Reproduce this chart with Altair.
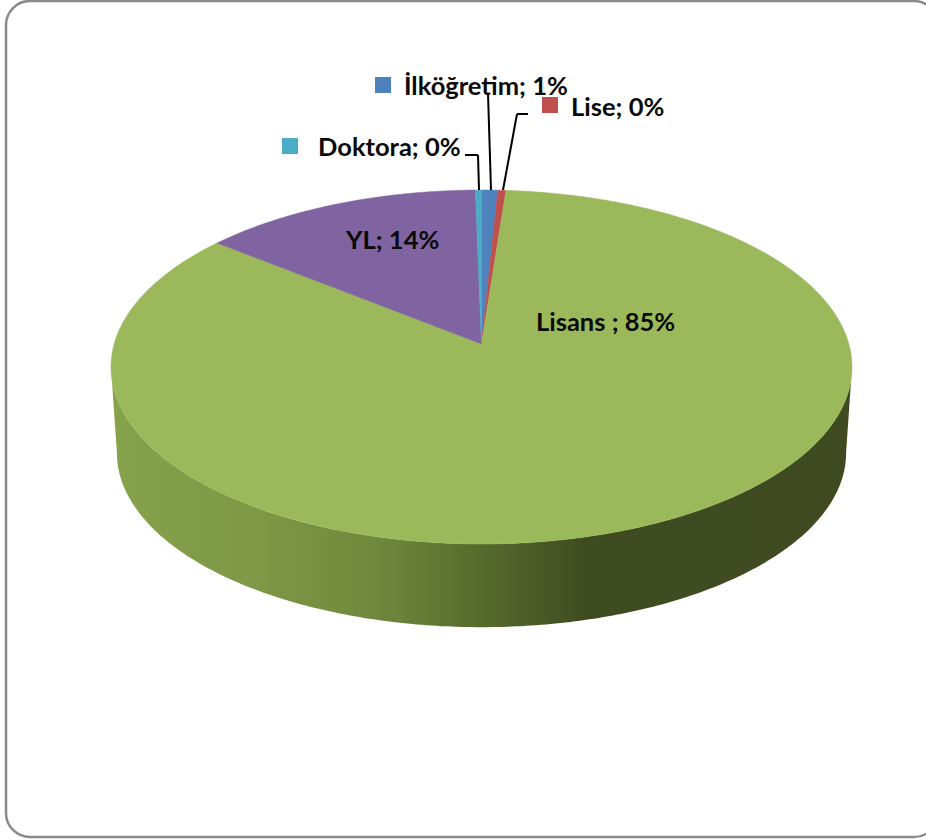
import math
import altair as alt
import pandas as pd

# Education level shares, clockwise from the top of the pie
categories = ["İlköğretim", "Lise", "Lisans ", "YL", "Doktora"]
shares = [0.8, 0.4, 84.6, 13.9, 0.3]
colors = ["#4F81BD", "#C0504D", "#9BB95B", "#8064A2", "#4BACC6"]

# Drawing geometry of the tilted disc, in pixels
CX, CY, RX = 481.5, 367.0, 370.5
APEX_Y, TOP_Y, BOTTOM_Y = 344.0, 190.0, 544.0
DEPTH, SHRINK = 86.0, 0.984

tilt = (2 * APEX_Y - BOTTOM_Y - TOP_Y) / (TOP_Y - BOTTOM_Y)
slope = TOP_Y * tilt + TOP_Y - APEX_Y
radius_x = RX * math.sqrt(1 - tilt * tilt)


def rim(angle, shrink=1.0, drop=0.0):
    """Project a pie angle (radians clockwise from the top) onto the tilted plane."""
    u, v = math.sin(angle), math.cos(angle)
    w = 1.0 / (1.0 + tilt * v)
    px = radius_x * u * w
    py = (slope * v + APEX_Y) * w
    return [px * shrink / RX, (CY - (CY + (py - CY) * shrink + drop)) / RX]


def feature(name, ring):
    return {
        "type": "Feature",
        "properties": {"name": name},
        "geometry": {"type": "Polygon", "coordinates": [ring + [ring[0]]]},
    }


# One polygon per slice: apex, then points along the rim
slices = []
start = 0.0
for name, share in zip(categories, shares):
    end = start + share
    a0, a1 = start * 2 * math.pi / 100, end * 2 * math.pi / 100
    steps = max(2, int(share * 4))
    ring = [rim(a0 + (a1 - a0) * i / steps) for i in range(steps + 1)]
    ring.append([0.0, (CY - APEX_Y) / RX])
    slices.append(feature(name, ring))
    start = end

# Side wall: front half of the top rim and, in reverse, of the bottom rim
left = math.pi * 1.5 - tilt
right = math.pi * 0.5 + tilt
count = 240
front = [right + (left - right) * i / count for i in range(count + 1)]
wall_ring = [rim(a) for a in front] + [rim(a, SHRINK, DEPTH) for a in reversed(front)]
wall = [feature("wall", wall_ring)]

projection = dict(type="identity", scale=RX, translate=[CX, CY], reflectY=True)

wall_fill = alt.Gradient(
    gradient="linear",
    x1=0, x2=1, y1=0, y2=0,
    stops=[
        alt.GradientStop(offset=0.0, color="#86A24B"),
        alt.GradientStop(offset=0.2, color="#7E9846"),
        alt.GradientStop(offset=0.36, color="#6F883C"),
        alt.GradientStop(offset=0.5, color="#566A2D"),
        alt.GradientStop(offset=0.64, color="#404C20"),
        alt.GradientStop(offset=1.0, color="#3F4A20"),
    ],
)

wall_layer = (
    alt.Chart(alt.Data(values=wall))
    .mark_geoshape(fill=wall_fill, strokeWidth=0)
    .project(**projection)
)

slice_layer = (
    alt.Chart(alt.Data(values=slices))
    .mark_geoshape(strokeWidth=0.5)
    .encode(
        color=alt.Color(
            "properties.name:N",
            scale=alt.Scale(domain=categories, range=colors),
            legend=None,
        ),
        stroke=alt.Stroke(
            "properties.name:N",
            scale=alt.Scale(domain=categories, range=colors),
            legend=None,
        ),
    )
    .project(**projection)
)

# Leader lines from the thin slices to their labels
leaders = pd.DataFrame(
    [
        (465, 155, 478, 155),
        (478, 155, 479, 190),
        (488, 93, 491, 190),
        (528, 114, 517, 114),
        (517, 114, 503, 190),
    ],
    columns=["x", "y", "x2", "y2"],
)
leader_layer = alt.Chart(leaders).mark_rule(color="#000000", strokeWidth=2).encode(
    x=alt.X("x:Q", scale=None),
    y=alt.Y("y:Q", scale=None),
    x2="x2:Q",
    y2="y2:Q",
)

# Label text is built from the shares
labels = pd.DataFrame(
    {
        "text": [f"{n}; {round(s)}%" for n, s in zip(categories, shares)],
        "x": [404, 571, 536, 346, 318],
        "y": [87, 108, 323, 241, 148],
    }
)
label_layer = alt.Chart(labels).mark_text(
    align="left", baseline="middle", font="Lato", fontWeight="bold",
    fontSize=25.5, color="#0A0A0A",
).encode(
    x=alt.X("x:Q", scale=None),
    y=alt.Y("y:Q", scale=None),
    text="text:N",
)

# Colour keys shown beside the labels of the thin slices
keys = pd.DataFrame(
    {
        "name": [categories[0], categories[1], categories[4]],
        "x": [383, 550, 290],
        "y": [85, 105, 146],
    }
)
key_layer = alt.Chart(keys).mark_point(
    shape="square", filled=True, size=256, opacity=1
).encode(
    x=alt.X("x:Q", scale=None),
    y=alt.Y("y:Q", scale=None),
    color=alt.Color(
        "name:N", scale=alt.Scale(domain=categories, range=colors), legend=None
    ),
)

# Rounded chart-area border, running off the right-hand edge
frame = alt.Chart(pd.DataFrame({"x": [6], "x2": [938], "y": [1], "y2": [837]})).mark_rect(
    fill="#FFFFFF", stroke="#8A8A8A", strokeWidth=2.5, cornerRadius=24
).encode(
    x=alt.X("x:Q", scale=None),
    x2="x2:Q",
    y=alt.Y("y:Q", scale=None),
    y2="y2:Q",
)

chart = (
    alt.layer(frame, wall_layer, slice_layer, leader_layer, key_layer, label_layer)
    .resolve_scale(color="independent")
    .properties(
        width=926,
        height=840,
        padding=0,
        autosize=alt.AutoSizeParams(type="none"),
        background="#FFFFFF",
    )
    .configure_view(stroke=None)
)

chart.save("out.html", embed_options={"renderer": "svg", "actions": False})
